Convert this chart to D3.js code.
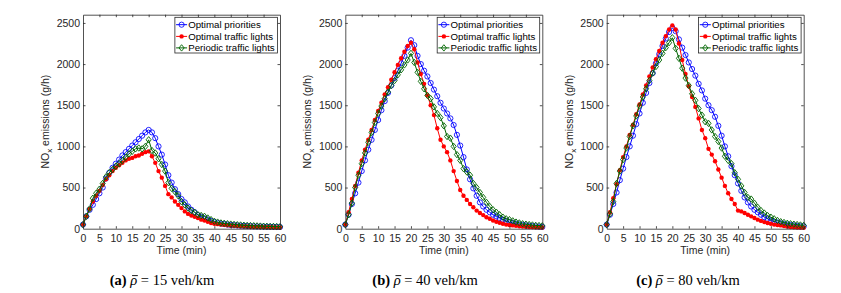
<!DOCTYPE html>
<html>
<head>
<meta charset="utf-8">
<script src="https://cdn.jsdelivr.net/npm/d3@7"></script>
<style>
  body { margin: 0; background: #fff; }
  svg { display: block; font-family: "Liberation Sans", Arial, sans-serif; }
</style>
</head>
<body>
<svg id="chart" width="841" height="293"></svg>
<script>
// time axis, one sample per minute
const time = d3.range(0, 61);

const seriesNames = ["Optimal priorities", "Optimal traffic lights", "Periodic traffic lights"];
const captionLetters = ["(a)", "(b)", "(c)"];
const captionDensity = ["15", "40", "80"];
const xTicks = [0, 5, 10, 15, 20, 25, 30, 35, 40, 45, 50, 55, 60];
const yTicks = [0, 500, 1000, 1500, 2000, 2500];

// (a) rho = 15 veh/km
const prioA = [50, 150, 230, 290, 360, 430, 500, 610, 680, 740, 790, 840, 890, 930, 970, 1010, 1050, 1090, 1130, 1170, 1200,
  1170, 1100, 1000, 900, 780, 650, 560, 480, 420, 360, 320, 270, 230, 200, 165, 145, 125, 110, 95, 80,
  70, 62, 56, 50, 46, 42, 39, 36, 34, 32, 30, 28, 27, 26, 25, 24, 23, 22, 21, 20];
const lightsA = [50, 150, 240, 330, 400, 460, 530, 600, 650, 700, 740, 770, 800, 830, 850, 860, 880, 890, 910, 930, 940,
  880, 800, 700, 620, 520, 420, 380, 330, 290, 250, 210, 180, 160, 145, 130, 110, 100, 85, 70, 60,
  55, 50, 46, 42, 38, 35, 32, 30, 28, 26, 24, 22, 21, 20, 19, 18, 17, 16, 15, 15];
const periodicA = [50, 150, 240, 370, 430, 480, 550, 630, 680, 720, 760, 790, 830, 870, 910, 940, 970, 980, 970, 1000, 1080,
  950, 920, 850, 780, 700, 560, 490, 450, 400, 330, 290, 250, 220, 200, 170, 160, 150, 130, 110, 90,
  80, 70, 65, 60, 56, 52, 48, 45, 42, 40, 38, 36, 34, 32, 30, 29, 28, 27, 26, 25];

// (b) rho = 40 veh/km
const prioB = [50, 170, 300, 430, 560, 700, 830, 960, 1080, 1200, 1320, 1440, 1550, 1650, 1740, 1830, 1920, 2010, 2100, 2200, 2290,
  2230, 2100, 2000, 1920, 1850, 1770, 1690, 1610, 1530, 1460, 1400, 1340, 1260, 1140, 1010, 870, 720, 600, 490, 400,
  320, 270, 230, 200, 170, 150, 130, 110, 95, 80, 70, 60, 52, 46, 40, 36, 32, 28, 25, 22];
const lightsB = [50, 200, 360, 520, 680, 830, 960, 1080, 1200, 1320, 1430, 1530, 1630, 1720, 1810, 1900, 1990, 2070, 2150, 2220, 2260,
  2180, 2020, 1880, 1760, 1620, 1500, 1380, 1220, 1080, 1000, 930, 830, 700, 580, 470, 400, 350, 300, 260, 220,
  190, 165, 140, 120, 100, 85, 72, 60, 50, 45, 40, 35, 30, 27, 24, 21, 19, 17, 16, 15];
const periodicB = [50, 170, 310, 500, 650, 790, 920, 1050, 1170, 1290, 1400, 1490, 1580, 1660, 1740, 1800, 1870, 1930, 1990, 2050, 2130,
  2020, 1900, 1790, 1700, 1620, 1580, 1480, 1400, 1350, 1250, 1120, 1100, 1000, 900, 830, 730, 690, 650, 550, 500,
  440, 380, 320, 270, 230, 200, 170, 140, 120, 110, 95, 80, 70, 60, 55, 50, 45, 40, 38, 35];

// (c) rho = 80 veh/km
const prioC = [50, 170, 300, 440, 590, 730, 870, 1000, 1130, 1270, 1400, 1530, 1650, 1770, 1890, 2010, 2120, 2220, 2310, 2390, 2440,
  2400, 2300, 2200, 2110, 2020, 1940, 1860, 1760, 1680, 1580, 1500, 1440, 1360, 1250, 1130, 1000, 880, 760, 650, 550,
  460, 380, 320, 270, 230, 200, 170, 140, 120, 100, 85, 75, 65, 55, 50, 45, 40, 35, 30, 28];
const lightsC = [50, 200, 370, 540, 710, 870, 1000, 1140, 1260, 1390, 1510, 1630, 1740, 1850, 1960, 2060, 2160, 2260, 2340, 2420, 2470,
  2420, 2250, 2050, 1880, 1730, 1600, 1480, 1340, 1200, 1100, 970, 900, 820, 720, 620, 520, 430, 360, 300, 220,
  210, 190, 170, 150, 130, 110, 95, 80, 70, 60, 50, 45, 40, 32, 25, 20, 18, 15, 13, 12];
const periodicC = [50, 180, 330, 550, 700, 840, 980, 1120, 1250, 1370, 1490, 1600, 1700, 1800, 1890, 1970, 2050, 2130, 2200, 2260, 2320,
  2190, 2070, 1950, 1830, 1740, 1640, 1560, 1460, 1380, 1300, 1280, 1200, 1120, 1060, 980, 880, 830, 790, 680, 600,
  520, 440, 380, 360, 310, 260, 220, 190, 160, 140, 120, 100, 85, 75, 65, 60, 55, 50, 45, 40];

const panels = [
  [prioA, lightsA, periodicA],
  [prioB, lightsB, periodicB],
  [prioC, lightsC, periodicC]
];

const colors = ["#0000ff", "#ff0000", "#006400"];
const axisColor = "#262626";

const plotLeft = [83, 345.3, 606.7];
const captionCenter = [162, 425, 688];
const plotW = 197, plotTop = 14.7, plotBottom = 228.7;

const svg = d3.select("#chart");

function drawMarker(g, kind, x, y, color) {
  if (kind === 0) {
    g.append("circle").attr("cx", x).attr("cy", y).attr("r", 2.6)
      .attr("fill", "none").attr("stroke", color).attr("stroke-width", 0.85);
  } else if (kind === 1) {
    g.append("circle").attr("cx", x).attr("cy", y).attr("r", 2.2)
      .attr("fill", color);
  } else {
    const s = 3.2;
    g.append("path")
      .attr("d", `M${x},${y - s}L${x + s * 0.8},${y}L${x},${y + s}L${x - s * 0.8},${y}Z`)
      .attr("fill", "none").attr("stroke", color).attr("stroke-width", 0.9);
  }
}

panels.forEach((series, p) => {
  const x = d3.scaleLinear().domain([0, 60]).range([plotLeft[p], plotLeft[p] + plotW]);
  const y = d3.scaleLinear().domain([0, 2600]).range([plotBottom, plotTop]);
  const g = svg.append("g");

  // data
  const line = d3.line().x((d, i) => x(time[i])).y(d => y(d));
  series.forEach((vals, s) => {
    const sg = g.append("g");
    sg.append("path").datum(vals).attr("d", line)
      .attr("fill", "none").attr("stroke", colors[s]).attr("stroke-width", 1);
    vals.forEach((v, i) => drawMarker(sg, s, x(time[i]), y(v), colors[s]));
  });

  // axes (MATLAB style, ticks inward, box on)
  const tl = 2.5;
  const fmt = d3.format("d");
  const bottom = g.append("g").attr("transform", `translate(0,${plotBottom})`)
    .call(d3.axisBottom(x).tickValues(xTicks).tickFormat(fmt).tickSizeInner(-tl).tickSizeOuter(0).tickPadding(6));
  const top = g.append("g").attr("transform", `translate(0,${plotTop})`)
    .call(d3.axisTop(x).tickValues(xTicks).tickSizeInner(-tl).tickSizeOuter(0).tickFormat(""));
  const left = g.append("g").attr("transform", `translate(${plotLeft[p]},0)`)
    .call(d3.axisLeft(y).tickValues(yTicks).tickFormat(fmt).tickSizeInner(-tl).tickSizeOuter(0).tickPadding(3));
  const right = g.append("g").attr("transform", `translate(${plotLeft[p] + plotW},0)`)
    .call(d3.axisRight(y).tickValues(yTicks).tickSizeInner(-tl).tickSizeOuter(0).tickFormat(""));
  [bottom, top, left, right].forEach(a => {
    a.select(".domain").attr("stroke", axisColor).attr("stroke-width", 0.8);
    a.selectAll(".tick line").attr("stroke", axisColor).attr("stroke-width", 0.8);
    a.selectAll(".tick text").attr("fill", axisColor).style("font-size", "10.5px")
      .style("font-family", "Liberation Sans, Arial, sans-serif");
  });
  // remove ticks at the box corners
  [bottom, top].forEach(a => a.selectAll(".tick line").filter(d => d === 0 || d === 60).remove());
  [left, right].forEach(a => a.selectAll(".tick line").filter(d => d === 0).remove());

  // axis labels
  g.append("text").attr("x", plotLeft[p] + plotW / 2).attr("y", 253.5)
    .attr("text-anchor", "middle").attr("fill", axisColor).style("font-size", "10.5px")
    .text("Time (min)");
  const yl = g.append("text")
    .attr("transform", `translate(${plotLeft[p] - 34},${(plotTop + plotBottom) / 2}) rotate(-90)`)
    .attr("text-anchor", "middle").attr("fill", axisColor).style("font-size", "10.5px");
  yl.append("tspan").text("NO");
  yl.append("tspan").attr("baseline-shift", "-3").style("font-size", "8px").text("x");
  yl.append("tspan").text(" emissions (g/h)");

  // legend
  const lg = g.append("g");
  const rowY = [24.7, 36.4, 47.9];
  const texts = seriesNames.map((n, s) =>
    lg.append("text").attr("y", rowY[s] + 3.5).attr("fill", "#000").style("font-size", "9.7px").text(n));
  const tw = d3.max(texts, t => t.node().getComputedTextLength());
  const lgRight = plotLeft[p] + plotW - 2.6;
  const lgLeft = lgRight - tw - 16;
  lg.insert("rect", ":first-child").attr("x", lgLeft).attr("y", 17.3)
    .attr("width", lgRight - lgLeft).attr("height", 35.7)
    .attr("fill", "#fff").attr("stroke", axisColor).attr("stroke-width", 0.8);
  texts.forEach(t => t.attr("x", lgLeft + 13.3));
  seriesNames.forEach((n, s) => {
    lg.append("line").attr("x1", lgLeft + 1.2).attr("x2", lgLeft + 12.2)
      .attr("y1", rowY[s]).attr("y2", rowY[s]).attr("stroke", colors[s]).attr("stroke-width", 1);
    drawMarker(lg, s, lgLeft + 6.7, rowY[s], colors[s]);
  });

  // caption, with a bar drawn over the rho
  const cap = svg.append("text").attr("x", captionCenter[p]).attr("y", 285)
    .attr("text-anchor", "middle").attr("fill", "#000")
    .style("font-family", "Liberation Serif, Times New Roman, serif").style("font-size", "14.5px");
  cap.append("tspan").style("font-weight", "bold").text(captionLetters[p]);
  cap.append("tspan").text(" ");
  cap.append("tspan").style("font-style", "italic").text("\u03C1");
  cap.append("tspan").text(" = " + captionDensity[p] + " veh/km");
  const ext = cap.node().getExtentOfChar(4);
  svg.append("line")
    .attr("x1", ext.x + 1.8).attr("x2", ext.x + ext.width + 0.6)
    .attr("y1", 275.6).attr("y2", 275.6)
    .attr("stroke", "#000").attr("stroke-width", 0.9);
});
</script>
</body>
</html>
